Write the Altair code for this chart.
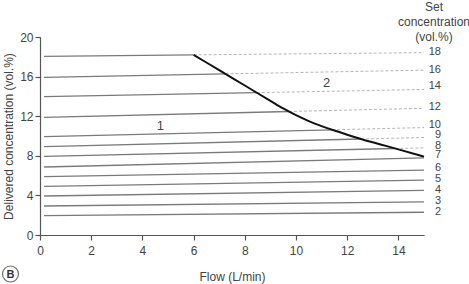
import altair as alt
import numpy as np
import pandas as pd

# Set concentrations (vol.%) and read-off delivered values
conc = [2, 3, 4, 5, 6, 7, 8, 9, 10, 12, 14, 16, 18]
left_y = [1.95, 2.93, 3.94, 4.92, 5.89, 6.87, 7.95, 8.92, 9.93, 11.89, 13.97, 15.93, 18.05]
right_y = [2.30, 3.35, 4.50, 5.55, 6.55, 7.80, 8.80, 9.85, 10.85, 12.80, 14.70, 16.65, 18.42]
label_y = [2.3, 3.45, 4.55, 5.7, 6.8, 8.05, 9.0, 10.1, 11.1, 12.9, 15.1, 16.7, 18.5]
x_start = 0.16
x_end = 15

# Limiting curve
curve_x = [6, 7, 8, 9, 9.5, 10, 10.5, 11, 11.5, 12, 12.6, 13.3, 14, 15]
curve_y = [18.2, 16.65, 15.1, 13.55, 12.78, 12.1, 11.5, 11.0, 10.55, 10.13, 9.65, 9.15, 8.65, 7.92]

region_labels = ["1", "2"]
region_x = [4.7, 11.2]
region_y = [11.0, 15.4]

x_ticks = [0, 2, 4, 6, 8, 10, 12, 14]
y_ticks = [0, 4, 8, 12, 16, 20]

FONT = "Liberation Sans"
TXT = "#444444"

# split each line at the curve
grid = np.linspace(curve_x[0], curve_x[-1], 3000)
cgrid = np.interp(grid, curve_x, curve_y)
solid_rows, dash_rows = [], []
for c, l, r in zip(conc, left_y, right_y):
    line = l + (r - l) * (grid - x_start) / (x_end - x_start)
    diff = cgrid - line
    idx = np.where(diff <= 0)[0]
    if len(idx) == 0:
        solid_rows += [{"c": c, "x": x_start, "y": l}, {"c": c, "x": x_end, "y": r}]
    else:
        xi = float(grid[idx[0]])
        yi = l + (r - l) * (xi - x_start) / (x_end - x_start)
        solid_rows += [{"c": c, "x": x_start, "y": l}, {"c": c, "x": xi, "y": yi}]
        dash_rows += [{"c": c, "x": xi, "y": yi}, {"c": c, "x": x_end, "y": r}]

solid_df = pd.DataFrame(solid_rows)
dash_df = pd.DataFrame(dash_rows)
curve_df = pd.DataFrame({"x": curve_x, "y": curve_y})
lab_df = pd.DataFrame({"t": [str(c) for c in conc], "x": [x_end] * len(conc), "y": label_y})
reg_df = pd.DataFrame({"t": region_labels, "x": region_x, "y": region_y})

xs = alt.Scale(domain=[0, 15], nice=False, zero=False)
ys = alt.Scale(domain=[0, 20], nice=False, zero=False)

xaxis = alt.Axis(
    values=x_ticks, title="Flow (L/min)", tickSize=5, labelPadding=5,
    labelOverlap=False, labelFlush=False,
    titleX=192, titleY=41, titleBaseline="middle", titleFontWeight="normal",
    titleFontSize=12, titleColor=TXT)
yaxis = alt.Axis(
    values=y_ticks, title="Delivered concentration (vol.%)", tickSize=5,
    labelPadding=2, labelOverlap=False, labelFlush=False,
    titleAngle=270, titleX=-32, titleY=99, titleAlign="center",
    titleBaseline="middle", titleFontWeight="normal", titleFontSize=12,
    titleColor=TXT)


def X():
    return alt.X("x:Q", scale=xs, axis=xaxis)


def Y():
    return alt.Y("y:Q", scale=ys, axis=yaxis)


solid = alt.Chart(solid_df).mark_line(color="#7a7a7a", strokeWidth=1.3).encode(
    x=X(), y=Y(), detail="c:N")
dashed = alt.Chart(dash_df).mark_line(color="#b5b5b5", strokeWidth=1, strokeDash=[3, 2]).encode(
    x=X(), y=Y(), detail="c:N")
curve = alt.Chart(curve_df).mark_line(color="#111111", strokeWidth=2, interpolate="monotone").encode(
    x=X(), y=Y())
labels = alt.Chart(lab_df).mark_text(align="right", baseline="middle", dx=17,
                                     font=FONT, fontSize=11, color=TXT).encode(
    x=X(), y=Y(), text="t:N")
regions = alt.Chart(reg_df).mark_text(align="center", baseline="middle",
                                      font=FONT, fontSize=13, color=TXT).encode(
    x=X(), y=Y(), text="t:N")
right_title = alt.Chart(pd.DataFrame({"t": ["Set\nconcentration\n(vol.%)"]})).mark_text(
    align="center", baseline="top", lineBreak="\n", lineHeight=15,
    font=FONT, fontSize=12, color=TXT).encode(
    x=alt.value(394), y=alt.value(-35), text="t:N")
badge = alt.Chart(pd.DataFrame({"t": ["B"]})).mark_point(
    shape="circle", size=256, filled=False, color="#333333", strokeWidth=1.2).encode(
    x=alt.value(-29.5), y=alt.value(237))
badge_t = alt.Chart(pd.DataFrame({"t": ["B"]})).mark_text(
    align="center", baseline="middle", font=FONT, fontSize=11, fontWeight="bold",
    color="#333333").encode(x=alt.value(-29.5), y=alt.value(237.5), text="t:N")

chart = alt.layer(solid, dashed, curve, labels, regions, right_title, badge, badge_t).properties(
    width=384, height=198,
    autosize=alt.AutoSizeParams(type="none"),
    padding={"left": 40, "top": 37, "right": 45, "bottom": 49},
).configure_view(stroke=None).configure_axis(
    grid=False, domainColor="#555555", tickColor="#555555", labelColor=TXT,
    labelFont=FONT, titleFont=FONT, labelFontSize=12, domainWidth=1.2, tickWidth=1.2,
    labelOverlap=False,
)

chart.save("out.html", embed_options={"renderer": "svg", "actions": False})
